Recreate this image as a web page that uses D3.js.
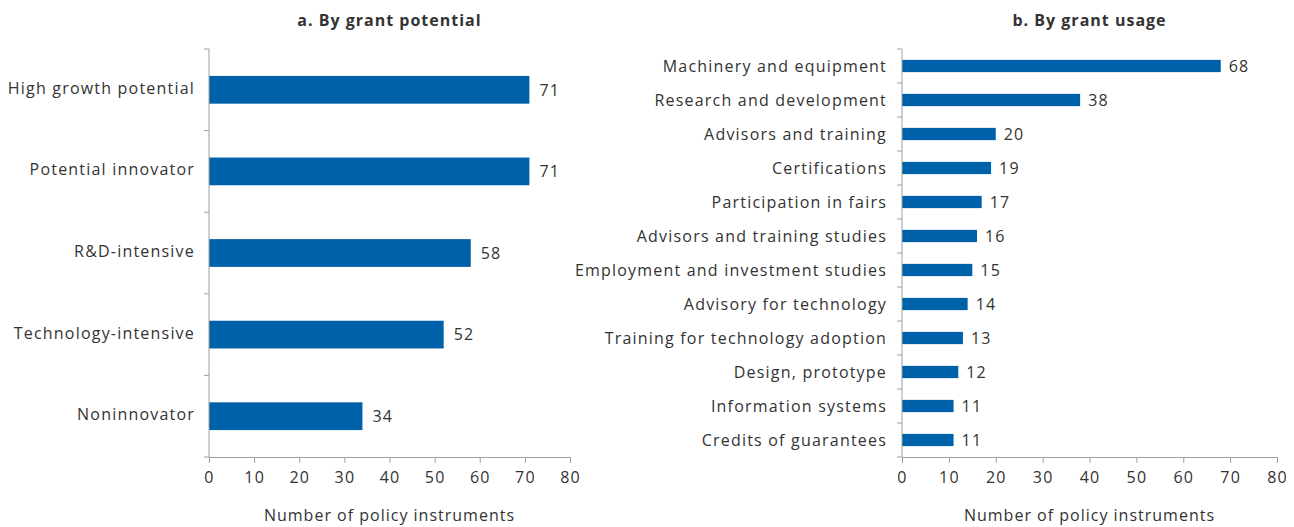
<!DOCTYPE html>
<html>
<head>
<meta charset="utf-8">
<script src="https://cdn.jsdelivr.net/npm/d3@7"></script>
<style>
  body { margin: 0; background: #fff; }
  svg text { font-family: "Open Sans", "Noto Sans", sans-serif; fill: #333; letter-spacing: 1.2px; }
</style>
</head>
<body>
<svg id="chart" width="1294" height="527"></svg>
<script>
// data
var potentialCats = ["High growth potential", "Potential innovator", "R&D-intensive", "Technology-intensive", "Noninnovator"];
var potentialVals = [71, 71, 58, 52, 34];

var usageCats = ["Machinery and equipment", "Research and development", "Advisors and training", "Certifications",
                 "Participation in fairs", "Advisors and training studies", "Employment and investment studies",
                 "Advisory for technology", "Training for technology adoption", "Design, prototype",
                 "Information systems", "Credits of guarantees"];
var usageVals = [68, 38, 20, 19, 17, 16, 15, 14, 13, 12, 11, 11];

var xTicks = [0, 10, 20, 30, 40, 50, 60, 70, 80];
var barColor = "#0061ab";
var axisColor = "#a0a0a0";
var fontSize = "16px";

var svg = d3.select("#chart");

drawPanel = function (cfg)
{
   var g = svg.append("g");
   var x = d3.scaleLinear().domain([0, 80]).range([cfg.x0, cfg.x1]);
   var y = d3.scaleBand().domain(cfg.cats).range([cfg.y0, cfg.y1]).paddingInner(cfg.pad).paddingOuter(cfg.pad / 2);

   // title
   g.append("text")
    .attr("x", (cfg.x0 + cfg.x1) / 2)
    .attr("y", 26)
    .attr("text-anchor", "middle")
    .style("font-weight", "bold")
    .style("font-size", fontSize)
    .style("letter-spacing", "1px")
    .text(cfg.title);

   // bars
   g.selectAll(".bar")
    .data(cfg.vals)
    .enter()
    .append("rect")
    .attr("x", x(0))
    .attr("y", function (d, i) { return y(cfg.cats[i]); })
    .attr("width", function (d) { return x(d) - x(0); })
    .attr("height", y.bandwidth())
    .attr("fill", barColor);

   // value labels
   g.selectAll(".val")
    .data(cfg.vals)
    .enter()
    .append("text")
    .attr("x", function (d) { return x(d) + cfg.labelGap; })
    .attr("y", function (d, i) { return y(cfg.cats[i]) + y.bandwidth() / 2; })
    .attr("dy", "0.36em")
    .style("font-size", fontSize)
    .text(function (d) { return d; });

   // y axis with ticks at band boundaries
   var step = (cfg.y1 - cfg.y0) / cfg.cats.length;
   var bounds = d3.range(cfg.cats.length + 1).map(function (i) { return cfg.y0 + i * step; });
   g.append("line")
    .attr("x1", x(0)).attr("x2", x(0))
    .attr("y1", cfg.y0).attr("y2", cfg.y1)
    .attr("stroke", axisColor);
   g.selectAll(".ytick")
    .data(bounds)
    .enter()
    .append("line")
    .attr("x1", x(0) - 5).attr("x2", x(0))
    .attr("y1", function (d) { return d; }).attr("y2", function (d) { return d; })
    .attr("stroke", axisColor);

   // category labels
   g.selectAll(".cat")
    .data(cfg.cats)
    .enter()
    .append("text")
    .attr("x", x(0) - cfg.catGap)
    .attr("y", function (d) { return y(d) + y.bandwidth() / 2; })
    .attr("dy", cfg.catDy)
    .attr("text-anchor", "end")
    .style("font-size", fontSize)
    .text(function (d) { return d; });

   // x axis
   var xa = g.append("g")
    .attr("transform", "translate(0," + cfg.y1 + ")")
    .call(d3.axisBottom(x).tickValues(xTicks).tickSize(6).tickSizeOuter(0).tickPadding(9));
   xa.select(".domain").attr("stroke", axisColor);
   xa.selectAll(".tick line").attr("stroke", axisColor);
   xa.selectAll(".tick text").style("font-size", fontSize).style("font-family", null).attr("fill", "#333");

   g.append("text")
    .attr("x", (cfg.x0 + cfg.x1) / 2)
    .attr("y", 521)
    .attr("text-anchor", "middle")
    .style("font-size", fontSize)
    .style("letter-spacing", "1px")
    .text("Number of policy instruments");
}

drawPanel({title: "a. By grant potential", cats: potentialCats, vals: potentialVals,
           x0: 209, x1: 570, y0: 49, y1: 457, pad: 0.66, labelGap: 10, catGap: 14, catDy: "0.25em"});
drawPanel({title: "b. By grant usage", cats: usageCats, vals: usageVals,
           x0: 902, x1: 1277, y0: 49, y1: 457, pad: 0.64, labelGap: 8, catGap: 15, catDy: "0.36em"});
</script>
</body>
</html>
